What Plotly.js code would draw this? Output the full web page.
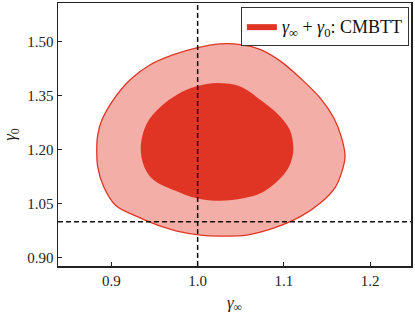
<!DOCTYPE html>
<html>
<head>
<meta charset="utf-8">
<script src="https://cdn.plot.ly/plotly-3.0.1.min.js"></script>
<style>
  html, body { margin: 0; padding: 0; background: #fff; }
  #chart { width: 415px; height: 325px; }
</style>
</head>
<body>
<div id="chart"></div>
<script>
// 2-sigma contour (outer)
const outerX = [1.026, 1.050, 1.073, 1.096, 1.119, 1.142, 1.158, 1.167, 1.171, 1.169, 1.160, 1.142, 1.119, 1.088, 1.057, 1.026, 1.003, 0.976, 0.953, 0.930, 0.905, 0.891, 0.884, 0.883, 0.884, 0.889, 0.902, 0.922, 0.945, 0.972, 0.999, 1.026];
const outerY = [1.494, 1.492, 1.478, 1.446, 1.399, 1.344, 1.288, 1.233, 1.182, 1.153, 1.097, 1.051, 1.014, 0.982, 0.963, 0.960, 0.963, 0.974, 0.991, 1.014, 1.045, 1.097, 1.153, 1.208, 1.240, 1.283, 1.338, 1.395, 1.436, 1.464, 1.483, 1.494];

// 1-sigma contour (inner)
const innerX = [1.023, 1.050, 1.073, 1.092, 1.107, 1.111, 1.110, 1.104, 1.090, 1.073, 1.053, 1.026, 0.999, 0.972, 0.949, 0.938, 0.934, 0.941, 0.957, 0.976, 0.999, 1.023];
const innerY = [1.385, 1.375, 1.338, 1.301, 1.255, 1.208, 1.181, 1.144, 1.107, 1.079, 1.065, 1.058, 1.065, 1.088, 1.116, 1.153, 1.208, 1.273, 1.319, 1.353, 1.376, 1.385];

// reference values (dashed lines)
const refX = 1.0;
const refY = 1.0;

const xTicks = [0.9, 1.0, 1.1, 1.2];
const yTicks = [0.90, 1.05, 1.20, 1.35, 1.50];
const yTickText = ['0.90', '1.05', '1.20', '1.35', '1.50'];

const red = '#e03524';
const serif = 'Liberation Serif, DejaVu Serif, serif';

const outer = {
    x: outerX,
    y: outerY,
    type: 'scatter',
    mode: 'lines',
    fill: 'toself',
    fillcolor: 'rgba(224,53,36,0.4)',
    line: { color: red, width: 1.3, shape: 'spline', smoothing: 1 },
    showlegend: false,
    hoverinfo: 'skip'
};

const inner = {
    x: innerX,
    y: innerY,
    type: 'scatter',
    mode: 'lines',
    fill: 'toself',
    fillcolor: red,
    line: { color: red, width: 0, shape: 'spline', smoothing: 1 },
    name: '<i>γ</i><sub>∞</sub> + <i>γ</i><sub>0</sub>: CMBTT',
    hoverinfo: 'skip'
};

const layout = {
    width: 415,
    height: 325,
    margin: { l: 58, r: 4, t: 3, b: 59 },
    paper_bgcolor: '#fff',
    plot_bgcolor: '#fff',
    font: { family: serif, size: 15, color: '#222' },
    showlegend: true,
    legend: {
        x: 0.994, xanchor: 'right',
        y: 0.985, yanchor: 'top',
        bgcolor: '#fff',
        bordercolor: '#333',
        borderwidth: 1,
        font: { family: serif, size: 18, color: '#111' }
    },
    xaxis: {
        range: [0.838, 1.2475],
        tickvals: xTicks,
        tickformat: '.1f',
        ticks: 'inside',
        ticklen: 4,
        tickcolor: '#222',
        showline: true,
        linecolor: '#222',
        linewidth: 1.5,
        mirror: true,
        showgrid: false,
        zeroline: false,
        title: { text: '<i>γ</i><sub>∞</sub>', font: { family: serif, size: 17 }, standoff: 8 }
    },
    yaxis: {
        range: [0.877, 1.6075],
        tickvals: yTicks,
        ticktext: yTickText,
        ticks: 'inside',
        ticklen: 4,
        tickcolor: '#222',
        showline: true,
        linecolor: '#222',
        linewidth: 1.5,
        mirror: true,
        showgrid: false,
        zeroline: false,
        title: { text: '<i>γ</i><sub>0</sub>', font: { family: serif, size: 17 }, standoff: 10 }
    },
    shapes: [
        {
            type: 'line', xref: 'x', yref: 'paper',
            x0: refX, x1: refX, y0: 0, y1: 1,
            line: { color: '#111', width: 1.5, dash: '5px,3px' }
        },
        {
            type: 'line', xref: 'paper', yref: 'y',
            x0: 0, x1: 1, y0: refY, y1: refY,
            line: { color: '#111', width: 1.5, dash: '5px,3px' }
        }
    ]
};

Plotly.newPlot('chart', [outer, inner], layout, { displayModeBar: false, staticPlot: true });
</script>
</body>
</html>
